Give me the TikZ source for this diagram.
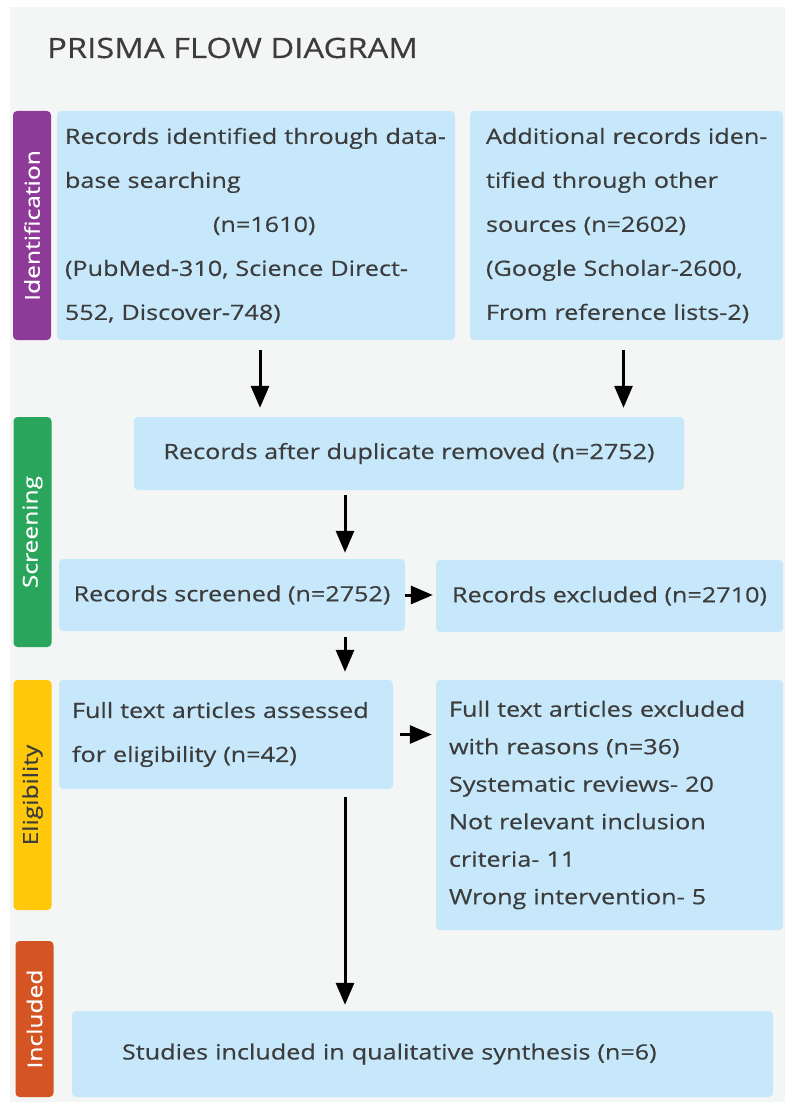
\documentclass[tikz,border=0pt]{standalone}
\usepackage{fontspec}
\setmainfont{Open Sans}
\newfontfamily\boxfont[FakeStretch=1.2, FakeBold=0.4]{Open Sans}
\newfontfamily\titlefont[FakeStretch=1.17, FakeBold=0.4]{Open Sans}
\usepackage{xcolor}
\usepackage{tikz}
\usetikzlibrary{calc, positioning, arrows.meta}

\definecolor{boxblue}{RGB}{198,232,250}
\definecolor{bggrey}{RGB}{244,246,246}
\definecolor{textgrey}{RGB}{60,60,60}
\definecolor{idpurple}{RGB}{142,58,152}
\definecolor{scrgreen}{RGB}{42,165,92}
\definecolor{eligyellow}{RGB}{255,200,10}
\definecolor{inclorange}{RGB}{212,85,35}

\begin{document}
\begin{tikzpicture}[x=1pt, y=-1pt,
		box/.style = {fill=boxblue, rounded corners=4pt, text=textgrey, font=\boxfont\fontsize{21}{44}\selectfont, inner ysep=0pt},
		phase/.style = {fill=#1, rounded corners=4pt, rotate=90, minimum height=38pt, text=white, font=\boxfont\fontsize{20.5}{20}\selectfont, inner sep=0pt},
		arrow/.style = {line width=3pt, -{Triangle[length=22pt, width=18pt]}}]
		\def\spine{345};
		
		\useasboundingbox (0,0) rectangle (785,1102);
		\fill [bggrey] (10,7) rectangle (785,1102);
		
		\node [anchor=base west, text=textgrey, font=\titlefont\fontsize{28}{28}\selectfont, inner sep=0pt] (title) at (47,58) {PRISMA FLOW DIAGRAM};
		
		%phases
		\node [phase=idpurple, minimum width=229pt] (identification) at (32,225.5) {Identification};
		\node [phase=scrgreen, minimum width=230pt] (screening) at (32.5,532) {Screening};
		\node [phase=eligyellow, minimum width=230pt, text=textgrey] (eligibility) at (32.5,795) {Eligibility};
		\node [phase=inclorange, minimum width=156pt] (included) at (34.5,1019) {Included};
		
		%boxes
		\node [box, text width=382pt, inner xsep=8pt, minimum height=229pt, align=left] (rec1) at (256,225.5) {Records identified through data-\\ base searching\\ \hspace*{148pt}(n=1610)\\ (PubMed-310, Science Direct-\\ 552, Discover-748)};
		\node [box, text width=281pt, inner xsep=16pt, minimum height=229pt, align=left] (rec2) at (626.5,225.5) {\mbox{Additional records iden-}\\ tified through other\\ sources (n=2602)\\ \mbox{(Google Scholar-2600,}\\ \mbox{From reference lists-2)}};
		\node [box, minimum width=550pt, minimum height=73pt] (dup) at (409,453.5) {Records after duplicate removed (n=2752)};
		\node [box, minimum width=346pt, minimum height=72pt] (screened) at (232,595) {Records screened (n=2752)};
		\node [box, minimum width=347pt, minimum height=72pt] (excl) at (609.5,596) {Records excluded (n=2710)};
		\node [box, text width=308pt, inner xsep=13pt, minimum height=109pt, align=left] (full) at (226,734.5) {Full text articles assessed\\ for eligibility (n=42)};
		\node [box, text width=321pt, inner xsep=13pt, minimum height=250pt, align=left, font=\boxfont\fontsize{21}{37.5}\selectfont] (fullexcl) at (609.5,805) {Full text articles excluded\\ with reasons (n=36)\\ Systematic reviews- 20\\ Not relevant inclusion\\ criteria- 11\\ Wrong intervention- 5};
		\node [box, text width=601pt, inner xsep=50pt, minimum height=86pt, align=left] (incl) at (422.5,1054) {Studies included in qualitative synthesis (n=6)};
		
		\coordinate (spine) at (\spine,0);
		
		%arrows
		\draw [arrow, shorten <=10pt, shorten >=9pt] ([xshift=4pt]rec1.south) -- ([xshift=4pt]rec1.south |- dup.north);
		\draw [arrow, shorten <=10pt, shorten >=9pt] ([xshift=-3pt]rec2.south) -- ([xshift=-3pt]rec2.south |- dup.north);
		\draw [arrow, shorten <=5pt, shorten >=6pt] (dup.south -| spine) -- (screened.north -| spine);
		\draw [arrow, shorten >=3pt] (screened.east) -- (screened.east -| excl.west);
		\draw [arrow, shorten <=6pt, shorten >=8pt] (screened.south -| spine) -- (full.north -| spine);
		\draw [arrow, shorten <=7pt, shorten >=4pt] (full.east) -- (full.east -| fullexcl.west);
		\draw [arrow, shorten <=8pt, shorten >=6pt] (full.south -| spine) -- (incl.north -| spine);
	\end{tikzpicture}
\end{document}
